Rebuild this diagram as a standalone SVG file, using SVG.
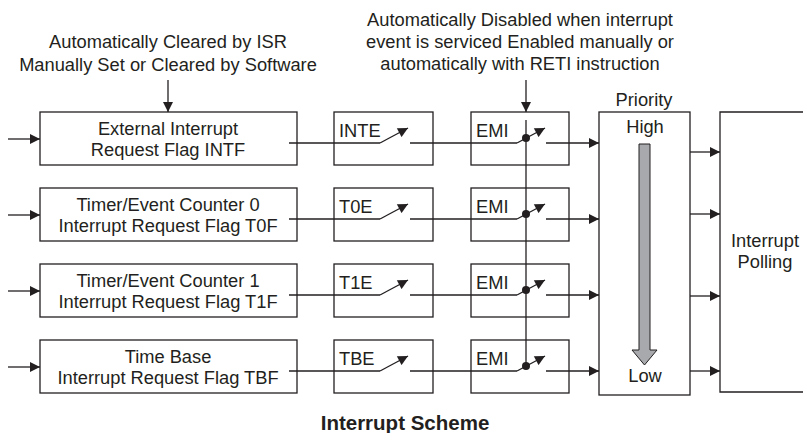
<svg xmlns="http://www.w3.org/2000/svg" width="803" height="433" viewBox="0 0 803 433">
<defs>
<marker id="ah" viewBox="0 0 10 10" refX="10" refY="5" markerWidth="11" markerHeight="10" markerUnits="userSpaceOnUse" orient="auto"><path d="M0,0 L10,5 L0,10 Z" fill="#231f20"/></marker>
<marker id="sh" viewBox="0 0 10 10" refX="10" refY="5" markerWidth="11" markerHeight="10" markerUnits="userSpaceOnUse" orient="auto"><path d="M0,0 L10,5 L0,10 Z" fill="#231f20"/></marker>
</defs>
<style>
text{font-family:"Liberation Sans",Arial,sans-serif;font-size:18.3px;fill:#231f20}
.c{text-anchor:middle}
.box{fill:#fff;stroke:#231f20;stroke-width:1.3}
.ln{fill:none;stroke:#231f20;stroke-width:1.3}
.ar{fill:none;stroke:#231f20;stroke-width:1.3;marker-end:url(#ah)}
.sw{fill:none;stroke:#231f20;stroke-width:1.3;marker-end:url(#sh)}
</style>
<rect width="803" height="433" fill="#fff"/>
<g id="label-flags">
<text class="c" x="168" y="48">Automatically Cleared by ISR</text>
<text class="c" x="168" y="71">Manually Set or Cleared by Software</text>
</g>
<g id="label-emi">
<text class="c" x="520" y="26">Automatically Disabled when interrupt</text>
<text class="c" x="520" y="48">event is serviced Enabled manually or</text>
<text class="c" x="520" y="70">automatically with RETI instruction</text>
</g>
<g id="flag-intf"><rect class="box" x="40" y="112" width="257" height="53"/><text class="c" x="168" y="135">External Interrupt</text><text class="c" x="168" y="156">Request Flag INTF</text></g>
<g id="flag-t0f"><rect class="box" x="40" y="188" width="257" height="53"/><text class="c" x="168" y="211">Timer/Event Counter 0</text><text class="c" x="168" y="232">Interrupt Request Flag T0F</text></g>
<g id="flag-t1f"><rect class="box" x="40" y="264" width="257" height="53"/><text class="c" x="168" y="287">Timer/Event Counter 1</text><text class="c" x="168" y="308">Interrupt Request Flag T1F</text></g>
<g id="flag-tbf"><rect class="box" x="40" y="340" width="257" height="53"/><text class="c" x="168" y="363">Time Base</text><text class="c" x="168" y="384">Interrupt Request Flag TBF</text></g>
<g id="en-inte"><rect class="box" x="334" y="112" width="99" height="53"/><text x="339" y="137">INTE</text></g>
<g id="en-t0e"><rect class="box" x="334" y="188" width="99" height="53"/><text x="339" y="213">T0E</text></g>
<g id="en-t1e"><rect class="box" x="334" y="264" width="99" height="53"/><text x="339" y="289">T1E</text></g>
<g id="en-tbe"><rect class="box" x="334" y="340" width="99" height="53"/><text x="339" y="365">TBE</text></g>
<g id="emi-1"><rect class="box" x="471" y="112" width="98" height="53"/><text x="476" y="137">EMI</text></g>
<g id="emi-2"><rect class="box" x="471" y="188" width="98" height="53"/><text x="476" y="213">EMI</text></g>
<g id="emi-3"><rect class="box" x="471" y="264" width="98" height="53"/><text x="476" y="289">EMI</text></g>
<g id="emi-4"><rect class="box" x="471" y="340" width="98" height="53"/><text x="476" y="365">EMI</text></g>
<g id="priority">
<text class="c" x="644" y="106">Priority</text>
<rect class="box" x="599" y="112" width="91" height="283"/>
<text class="c" x="645" y="133">High</text>
<path d="M639,144 H650 V350 H657 L644.5,365 L632,350 H639 Z" fill="#a7a9ac" stroke="#231f20" stroke-width="1"/>
<text class="c" x="645" y="382">Low</text>
</g>
<g id="polling">
<path class="ln" d="M803,112 H720 V392 H803"/>
<text class="c" x="765" y="247">Interrupt</text>
<text class="c" x="765" y="268">Polling</text>
</g>
<g id="connectors">
<path class="ar" d="M168,80 V112"/>
<path class="ar" d="M526,80 V112"/>
<path class="ln" d="M526,120 V366"/>
<g id="row1">
<path class="ar" d="M8,139 H40"/>
<path class="ln" d="M289,143 H380"/>
<path class="sw" d="M380,143 L408,128"/>
<path class="ln" d="M410,143 H517"/>
<path class="sw" d="M517,143 L545,128"/>
<circle cx="526" cy="138" r="4" fill="#231f20"/>
<path class="ar" d="M546,143 H599"/>
</g>
<g id="row2">
<path class="ar" d="M8,215 H40"/>
<path class="ln" d="M289,219 H380"/>
<path class="sw" d="M380,219 L408,204"/>
<path class="ln" d="M410,219 H517"/>
<path class="sw" d="M517,219 L545,204"/>
<circle cx="526" cy="214" r="4" fill="#231f20"/>
<path class="ar" d="M546,219 H599"/>
</g>
<g id="row3">
<path class="ar" d="M8,291 H40"/>
<path class="ln" d="M289,295 H380"/>
<path class="sw" d="M380,295 L408,280"/>
<path class="ln" d="M410,295 H517"/>
<path class="sw" d="M517,295 L545,280"/>
<circle cx="526" cy="290" r="4" fill="#231f20"/>
<path class="ar" d="M546,295 H599"/>
</g>
<g id="row4">
<path class="ar" d="M8,367 H40"/>
<path class="ln" d="M289,371 H380"/>
<path class="sw" d="M380,371 L408,356"/>
<path class="ln" d="M410,371 H517"/>
<path class="sw" d="M517,371 L545,356"/>
<circle cx="526" cy="366" r="4" fill="#231f20"/>
<path class="ar" d="M546,371 H599"/>
</g>
<path class="ar" d="M690,152 H720"/>
<path class="ar" d="M690,214 H720"/>
<path class="ar" d="M690,296 H720"/>
<path class="ar" d="M690,371 H720"/>
</g>
<text class="c" x="405" y="430" style="font-weight:bold;font-size:20.5px">Interrupt Scheme</text>
</svg>
